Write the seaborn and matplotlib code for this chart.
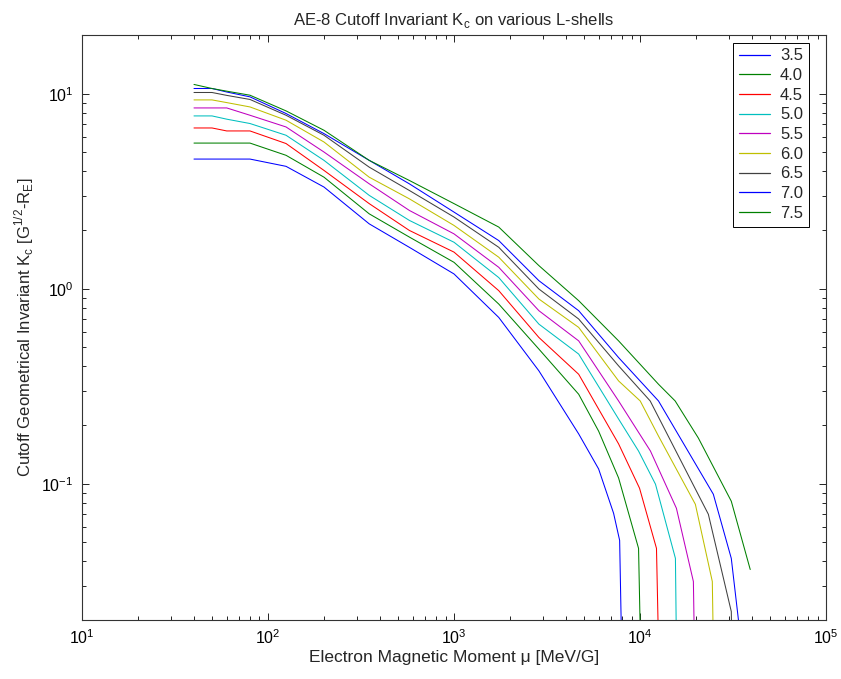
import numpy as np
import pandas as pd
import seaborn as sns
import matplotlib
matplotlib.use("Agg")
import matplotlib.pyplot as plt
from matplotlib.ticker import LogLocator, NullFormatter, FixedLocator

# L-shells and their curves (mu in MeV/G, K_c in G^1/2 R_E)
l_shells = ["3.5", "4.0", "4.5", "5.0", "5.5", "6.0", "6.5", "7.0", "7.5"]
mu_base = [40, 50, 60, 80, 125, 200, 350, 575, 1000, 1740, 2860, 4680]

k_35 = [4.62, 4.62, 4.62, 4.62, 4.24, 3.32, 2.15, 1.63, 1.19, 0.712, 0.379, 0.180]
k_40 = [5.58, 5.58, 5.58, 5.58, 4.83, 3.73, 2.42, 1.84, 1.365, 0.834, 0.490, 0.2875]
k_45 = [6.67, 6.67, 6.44, 6.44, 5.55, 4.04, 2.73, 1.99, 1.54, 0.977, 0.562, 0.364]
k_50 = [7.69, 7.69, 7.40, 7.03, 6.12, 4.55, 3.01, 2.24, 1.73, 1.14, 0.658, 0.462]
k_55 = [8.45, 8.45, 8.45, 7.75, 6.75, 5.02, 3.45, 2.52, 1.91, 1.287, 0.771, 0.540]
k_60 = [9.29, 9.29, 9.00, 8.55, 7.31, 5.65, 3.73, 2.89, 2.11, 1.45, 0.885, 0.633]
k_65 = [10.14, 10.14, 9.80, 9.34, 7.75, 6.12, 4.20, 3.19, 2.33, 1.63, 0.996, 0.699]
k_70 = [10.63, 10.63, 10.20, 9.63, 7.91, 6.24, 4.55, 3.45, 2.47, 1.765, 1.099, 0.771]
k_75 = [11.15, 10.63, 10.30, 9.82, 8.16, 6.49, 4.55, 3.59, 2.73, 2.07, 1.313, 0.868]

# high-mu tails down to the cutoff
tail_mu_35 = [5990, 7210, 7770, 7960]
tail_k_35 = [0.119, 0.0705, 0.0512, 0.015]
tail_mu_40 = [5990, 7670, 9820, 10060]
tail_k_40 = [0.186, 0.107, 0.0466, 0.015]
tail_mu_45 = [7670, 9940, 12260, 12570]
tail_k_45 = [0.160, 0.0948, 0.0466, 0.015]
tail_mu_50 = [7670, 9820, 12110, 15500, 15690]
tail_k_50 = [0.2146, 0.147, 0.0994, 0.0414, 0.015]
tail_mu_55 = [7670, 11380, 15690, 19360, 19600]
tail_k_55 = [0.2656, 0.147, 0.0748, 0.0315, 0.015]
tail_mu_60 = [7670, 10025, 12570, 19840, 24470, 24780]
tail_k_60 = [0.3365, 0.2656, 0.1754, 0.0784, 0.0315, 0.015]
tail_mu_65 = [7670, 11340, 23300, 30950, 31150]
tail_k_65 = [0.402, 0.2656, 0.0697, 0.0221, 0.015]
tail_mu_70 = [7670, 12570, 24780, 30950, 34030]
tail_k_70 = [0.4433, 0.2656, 0.0883, 0.0414, 0.019]
tail_mu_75 = [7670, 12570, 15450, 20590, 30950, 39130]
tail_k_75 = [0.540, 0.3236, 0.2656, 0.1714, 0.0813, 0.0363]

k_main = [k_35, k_40, k_45, k_50, k_55, k_60, k_65, k_70, k_75]
tails_mu = [tail_mu_35, tail_mu_40, tail_mu_45, tail_mu_50, tail_mu_55,
            tail_mu_60, tail_mu_65, tail_mu_70, tail_mu_75]
tails_k = [tail_k_35, tail_k_40, tail_k_45, tail_k_50, tail_k_55,
           tail_k_60, tail_k_65, tail_k_70, tail_k_75]

rows = []
for L, k, tm, tk in zip(l_shells, k_main, tails_mu, tails_k):
    for m, v in zip(mu_base + tm, k + tk):
        rows.append({"mu": float(m), "K": float(v), "L": L})
df = pd.DataFrame(rows)

# old MATLAB colour order
colors = [(0, 0, 1), (0, 0.5, 0), (1, 0, 0), (0, 0.75, 0.75), (0.75, 0, 0.75),
          (0.75, 0.75, 0), (0.25, 0.25, 0.25), (0, 0, 1), (0, 0.5, 0)]

sns.set_style("white")
plt.rcParams["font.family"] = ["Liberation Sans", "DejaVu Sans"]
plt.rcParams["mathtext.fontset"] = "custom"
plt.rcParams["mathtext.rm"] = "Liberation Sans"

fig = plt.figure(figsize=(8.41, 6.79), dpi=100)
ax = fig.add_axes([0.0975, 0.0869, 0.8847, 0.8616])
ax.set_xscale("log")
ax.set_yscale("log")

sns.lineplot(data=df, x="mu", y="K", hue="L", palette=colors, estimator=None,
             sort=False, linewidth=0.75, ax=ax)

ax.set_xlim(10, 1e5)
ax.set_ylim(0.02, 20)

ax.set_title(r"AE-8 Cutoff Invariant K$_\mathregular{c}$ on various L-shells",
             fontsize=12, pad=7)
ax.set_xlabel("Electron Magnetic Moment \u03bc [MeV/G]", fontsize=12.5, labelpad=2)
ax.set_ylabel(r"Cutoff Geometrical Invariant K$_\mathregular{c}$ "
              r"[G$^\mathregular{1/2}$-R$_\mathregular{E}$]", fontsize=12, labelpad=4)

for s in ax.spines.values():
    s.set_color("#333333")
    s.set_linewidth(0.8)

handles, labels = ax.get_legend_handles_labels()
for h, c in zip(handles, colors):
    h.set_color(c)
    h.set_linewidth(0.9)
leg = ax.legend(handles, labels, loc="upper right", bbox_to_anchor=(0.977, 0.987),
                borderaxespad=0, fontsize=12, frameon=True, fancybox=False,
                edgecolor="black", framealpha=1, handlelength=1.85,
                handletextpad=0.6, labelspacing=0.28, borderpad=0.35)
leg.get_frame().set_linewidth(0.7)

# log ticks, minor ones at 2..9 of every decade, all pointing inwards
subs = np.arange(2, 10)
x_minor = np.concatenate([subs * 10.0 ** d for d in range(1, 5)])
y_minor = np.concatenate([subs * 10.0 ** d for d in range(-2, 2)])
ax.xaxis.set_major_locator(LogLocator(base=10, numticks=20))
ax.yaxis.set_major_locator(LogLocator(base=10, numticks=20))
ax.xaxis.set_minor_locator(FixedLocator(x_minor))
ax.yaxis.set_minor_locator(FixedLocator(y_minor[(y_minor > 0.02) & (y_minor < 20)]))
ax.xaxis.set_minor_formatter(NullFormatter())
ax.yaxis.set_minor_formatter(NullFormatter())
ax.xaxis.remove_overlapping_locs = False
ax.yaxis.remove_overlapping_locs = False

ax.tick_params(which="both", direction="in", bottom=True, left=True, top=True,
               right=True, colors="black", labelsize=11.5)
ax.tick_params(which="major", length=5, width=0.6, pad=6)
ax.tick_params(axis="x", which="minor", bottom=True, top=True, length=3, width=0.6,
               direction="in", color="black")
ax.tick_params(axis="y", which="minor", left=True, right=True, length=3, width=0.6,
               direction="in", color="black")

fig.savefig("out.png", dpi=100)
